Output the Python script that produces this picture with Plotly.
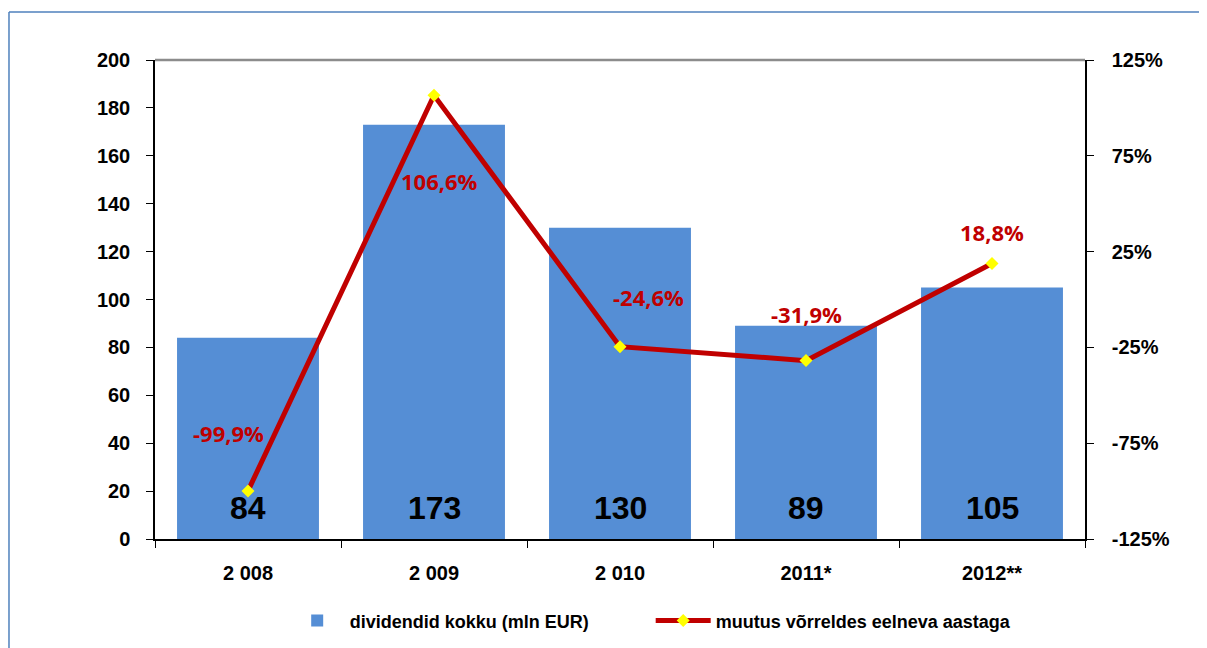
import plotly.graph_objects as go

categories = ["2 008", "2 009", "2 010", "2011*", "2012**"]
dividends = [84, 173, 130, 89, 105]
change_pct = [-99.9, 106.6, -24.6, -31.9, 18.8]
y2_ticks = [-125, -75, -25, 25, 75, 125]

bar_name = "dividendid kokku (mln EUR)"
line_name = "muutus võrreldes eelneva aastaga"

# label offsets (style, pixels)
pct_label_shift = [(-20, 58), (5, -86), (28, 50), (0, 47), (0, 31)]

BAR_COLOR = "#558ed5"
LINE_COLOR = "#c00000"
FONT = "Liberation Sans, Arial, sans-serif"

fig = go.Figure()
fig.add_trace(go.Bar(
    x=categories, y=dividends, name=bar_name,
    marker=dict(color=BAR_COLOR, line=dict(width=0)),
    yaxis="y",
))
fig.add_trace(go.Scatter(
    x=categories, y=change_pct, name=line_name, yaxis="y2",
    mode="lines+markers",
    line=dict(color=LINE_COLOR, width=5),
    marker=dict(symbol="diamond", color="#ffff00", size=10, line=dict(width=0)),
))

annotations = []
for c, v in zip(categories, dividends):
    annotations.append(dict(
        x=c, y=0, xref="x", yref="y", text=f"<b>{v}</b>", showarrow=False,
        yanchor="bottom", yshift=11,
        font=dict(family=FONT, size=32, color="black"),
    ))
for c, p, (dx, dy) in zip(categories, change_pct, pct_label_shift):
    txt = f"{p:.1f}".replace(".", ",") + "%"
    annotations.append(dict(
        x=c, y=p, xref="x", yref="y2", text=f"<b>{txt}</b>", showarrow=False,
        xshift=dx, yshift=dy, xanchor="center", yanchor="middle",
        font=dict(family="Open Sans, sans-serif", size=22, color=LINE_COLOR),
    ))

shapes = [
    # plot area top border
    dict(type="line", xref="paper", yref="paper", x0=0, x1=1, y0=1, y1=1,
         line=dict(color="#8c8c8c", width=2.5)),
    # outer frame (left and top)
    dict(type="line", xref="paper", yref="paper", x0=-0.157, x1=-0.157, y0=1.1, y1=-0.35,
         line=dict(color="#4f81bd", width=1.5)),
    dict(type="line", xref="paper", yref="paper", x0=-0.157, x1=1.25, y0=1.1, y1=1.1,
         line=dict(color="#4f81bd", width=1.5)),
]

fig.update_layout(
    width=1207, height=648,
    margin=dict(l=147, r=130, t=52, b=117),
    paper_bgcolor="white", plot_bgcolor="white",
    font=dict(family=FONT, size=20, color="black"),
    bargap=0.237,
    showlegend=True,
    legend=dict(orientation="h", x=0.533, xanchor="center", y=-0.171, yanchor="middle",
                font=dict(family=FONT, size=18, color="black", weight="bold"),
                itemwidth=55, entrywidth=296, entrywidthmode="pixels",
                traceorder="normal"),
    xaxis=dict(
        type="category", showline=True, linecolor="black", linewidth=1.5,
        ticks="outside", tickson="boundaries", ticklen=7, tickcolor="black",
        tickfont=dict(family=FONT, size=20, weight="bold"),
        ticklabelstandoff=15, showgrid=False, zeroline=False,
    ),
    yaxis=dict(
        range=[0, 200], dtick=20, showline=True, linecolor="black", linewidth=1.5,
        ticks="outside", ticklen=7, tickcolor="black",
        tickfont=dict(family=FONT, size=20, weight="bold"),
        ticklabelstandoff=12, showgrid=False, zeroline=False,
    ),
    yaxis2=dict(
        overlaying="y", side="right", range=[-125, 125], tickvals=y2_ticks,
        ticktext=[f"{t}%" for t in y2_ticks],
        showline=True, linecolor="black", linewidth=1.5,
        ticks="outside", ticklen=7, tickcolor="black",
        tickfont=dict(family=FONT, size=20, weight="bold"),
        ticklabelstandoff=14, showgrid=False, zeroline=False,
    ),
    annotations=annotations,
    shapes=shapes,
)

fig.write_html("out.html")
